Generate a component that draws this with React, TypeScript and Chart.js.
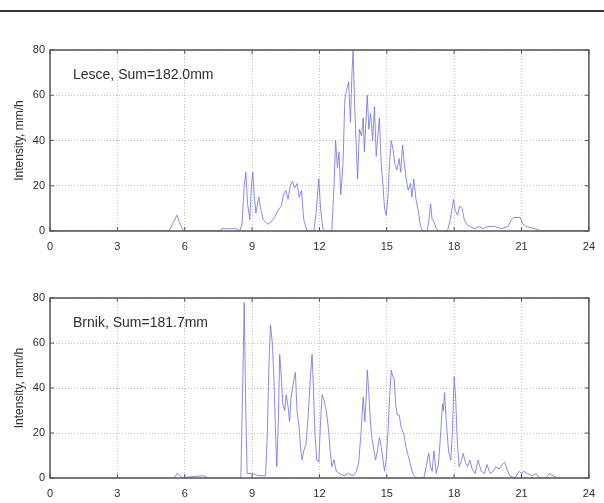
import React, { useEffect, useRef } from "react";
import { Chart, registerables } from "chart.js";

Chart.register(...registerables);

const xTicks = [0, 3, 6, 9, 12, 15, 18, 21, 24];
const yTicks = [0, 20, 40, 60, 80];
const yTitle = "Intensity, mm/h";

const lesceLabel = "Lesce, Sum=182.0mm";
const lesceHours = [0, 5.3, 5.5, 5.65, 5.8, 5.95, 7.6, 7.65, 8.3, 8.45, 8.55, 8.65, 8.72, 8.8, 8.9, 8.97, 9.03, 9.1, 9.17, 9.3, 9.4, 9.5, 9.7, 9.85, 10.0, 10.15, 10.3, 10.4, 10.5, 10.6, 10.7, 10.8, 10.9, 11.0, 11.1, 11.2, 11.3, 11.45, 11.75, 11.85, 11.97, 12.05, 12.15, 12.25, 12.55, 12.65, 12.72, 12.8, 12.87, 12.95, 13.05, 13.13, 13.2, 13.3, 13.38, 13.45, 13.5, 13.57, 13.65, 13.7, 13.78, 13.87, 13.95, 14.0, 14.07, 14.13, 14.2, 14.28, 14.37, 14.45, 14.53, 14.6, 14.67, 14.75, 14.83, 14.9, 14.97, 15.05, 15.12, 15.2, 15.28, 15.35, 15.45, 15.55, 15.62, 15.7, 15.78, 15.85, 15.95, 16.05, 16.12, 16.2, 16.3, 16.4, 16.5, 16.6, 16.8, 16.88, 16.95, 17.02, 17.1, 17.2, 17.35, 17.7, 17.83, 17.97, 18.05, 18.15, 18.25, 18.35, 18.45, 18.55, 18.7, 18.9, 19.1, 19.3, 19.5, 19.8, 20.1, 20.4, 20.55, 20.65, 20.95, 21.05, 21.2, 21.6, 21.9, 24];
const lesceValues = [0, 0, 4, 7, 3, 0, 0, 1, 1, 0, 3, 20, 26, 12, 5, 20, 26, 15, 8, 15, 9, 5, 3, 4, 6, 9, 11, 16, 18, 14, 20, 22, 19, 21, 15, 18, 5, 0, 0, 8, 23, 10, 1, 0, 0, 20, 40, 28, 35, 16, 30, 58, 62, 66, 48, 70, 80, 55, 35, 23, 45, 42, 50, 35, 48, 60, 45, 52, 40, 55, 33, 42, 50, 30, 20, 10, 7, 15, 30, 40, 36, 30, 27, 32, 26, 38, 30, 24, 18, 21, 15, 23, 14, 9, 2, 0, 0, 5, 12, 5, 4, 1, 0, 0, 5, 14, 9, 7, 11, 10, 5, 3, 2, 1, 2, 1, 2, 2, 1, 2, 5, 6, 6, 3, 2, 1, 0, 0];

const brnikLabel = "Brnik, Sum=181.7mm";
const brnikHours = [0, 5.55, 5.65, 5.8, 5.9, 6.2, 6.8, 7.1, 8.5, 8.58, 8.65, 8.72, 8.78, 9.0, 9.3, 9.6, 9.68, 9.75, 9.82, 9.9, 9.97, 10.03, 10.1, 10.17, 10.23, 10.3, 10.37, 10.45, 10.52, 10.6, 10.67, 10.73, 10.8, 10.87, 10.93, 11.0, 11.1, 11.17, 11.23, 11.3, 11.4, 11.5, 11.6, 11.67, 11.73, 11.8, 11.88, 11.97, 12.05, 12.12, 12.2, 12.3, 12.4, 12.48, 12.55, 12.65, 12.75, 12.9, 13.1, 13.3, 13.5, 13.65, 13.75, 13.85, 13.95, 14.02, 14.08, 14.13, 14.2, 14.25, 14.33, 14.4, 14.5, 14.58, 14.67, 14.75, 14.83, 14.9, 14.97, 15.05, 15.12, 15.2, 15.27, 15.33, 15.4, 15.47, 15.55, 15.65, 15.75, 15.85, 15.95, 16.05, 16.15, 16.3, 16.65, 16.75, 16.87, 16.95, 17.02, 17.1, 17.2, 17.3, 17.4, 17.48, 17.52, 17.57, 17.65, 17.75, 17.85, 17.92, 18.0, 18.07, 18.13, 18.22, 18.3, 18.4, 18.5, 18.6, 18.7, 18.8, 18.93, 19.07, 19.2, 19.35, 19.46, 19.6, 19.75, 19.85, 20.0, 20.15, 20.25, 20.35, 20.48, 20.7, 20.9, 21.0, 21.1, 21.25, 21.5, 21.65, 21.8, 22.1, 22.24, 22.4, 22.6, 24];
const brnikValues = [0, 0, 2, 1, 0, 0.5, 1, 0, 0, 40, 78, 30, 2, 2, 1, 1, 20, 50, 68, 60, 45, 25, 5, 25, 55, 45, 33, 30, 37, 32, 25, 35, 40, 44, 47, 30, 22, 12, 8, 12, 15, 28, 45, 55, 40, 20, 8, 7, 25, 37, 35, 30, 22, 12, 5, 8, 3, 2, 1, 2, 1, 3, 7, 20, 36, 25, 35, 48, 38, 28, 18, 14, 8, 12, 18, 14, 8, 3, 8, 20, 35, 48, 45, 44, 32, 28, 28, 22, 20, 14, 10, 6, 2, 0, 0, 5, 11, 5, 3, 12, 2, 6, 20, 33, 30, 38, 25, 12, 8, 20, 45, 35, 18, 5, 7, 11, 7, 5, 8, 4, 2, 8, 3, 2, 6, 2, 3, 5, 4, 6, 7, 4, 1, 0, 3, 2, 3, 2, 1, 2, 0, 0, 2, 1, 0, 0];

const TEXT = "#2e2e2e";
const FONT = "Arial, 'Liberation Sans', sans-serif";

const framePlugin = {
  id: "frame",
  afterDraw(chart: any, _args: any, opts: any) {
    const { ctx, chartArea: a, scales } = chart;
    ctx.save();
    ctx.strokeStyle = "#555";
    ctx.lineWidth = 1.5;
    ctx.strokeRect(a.left, a.top, a.right - a.left, a.bottom - a.top);
    ctx.lineWidth = 1;
    ctx.beginPath();
    xTicks.forEach((v) => {
      const px = scales.x.getPixelForValue(v);
      ctx.moveTo(px, a.bottom);
      ctx.lineTo(px, a.bottom - 4);
      ctx.moveTo(px, a.top);
      ctx.lineTo(px, a.top + 4);
    });
    yTicks.forEach((v) => {
      const py = scales.y.getPixelForValue(v);
      ctx.moveTo(a.left, py);
      ctx.lineTo(a.left + 4, py);
      ctx.moveTo(a.right, py);
      ctx.lineTo(a.right - 4, py);
    });
    ctx.stroke();
    ctx.fillStyle = TEXT;
    ctx.font = "14px " + FONT;
    ctx.textBaseline = "middle";
    ctx.textAlign = "left";
    ctx.fillText(opts.label, a.left + 23, a.top + 25);
    ctx.restore();
  },
};

function Panel(props: { hours: number[]; values: number[]; label: string; top: number; height: number; xh: number }) {
  const ref = useRef<HTMLCanvasElement>(null);
  useEffect(() => {
    const data = props.hours.map((h, i) => ({ x: h, y: props.values[i] }));
    const chart = new Chart(ref.current!, {
      type: "line",
      data: {
        datasets: [
          {
            data,
            borderColor: "rgba(120,120,220,0.85)",
            borderWidth: 1,
            pointRadius: 0,
            tension: 0,
            fill: false,
          },
        ],
      },
      options: {
        animation: false,
        responsive: false,
        maintainAspectRatio: false,
        layout: { padding: { left: 0, right: 9, top: 30, bottom: 0 } },
        plugins: {
          legend: { display: false },
          tooltip: { enabled: false },
          frame: { label: props.label },
        } as any,
        scales: {
          x: {
            type: "linear",
            min: 0,
            max: 24,
            afterBuildTicks: (axis: any) => {
              axis.ticks = xTicks.map((v) => ({ value: v }));
            },
            afterFit: (axis: any) => {
              axis.height = props.xh;
            },
            ticks: { color: TEXT, font: { size: 11, family: FONT }, padding: 9, maxRotation: 0 },
            grid: { color: "#c4c4c4", drawTicks: false, lineWidth: 1 },
            border: { display: false, dash: [1, 2] },
          },
          y: {
            min: 0,
            max: 80,
            afterBuildTicks: (axis: any) => {
              axis.ticks = yTicks.map((v) => ({ value: v }));
            },
            afterFit: (axis: any) => {
              axis.width = 50;
            },
            ticks: { color: TEXT, font: { size: 11, family: FONT }, padding: 5 },
            grid: { color: "#c4c4c4", drawTicks: false, lineWidth: 1 },
            border: { display: false, dash: [1, 2] },
            title: {
              display: true,
              text: yTitle,
              color: TEXT,
              font: { size: 12, family: FONT },
              padding: { top: 12, bottom: 0 },
            },
          },
        },
      },
      plugins: [framePlugin],
    } as any);
    return () => chart.destroy();
  }, []);
  return (
    <canvas
      ref={ref}
      width={604}
      height={props.height}
      style={{ position: "absolute", left: 0, top: props.top, width: 604, height: props.height }}
    />
  );
}

export default function App() {
  return (
    <div
      style={{
        position: "fixed",
        left: 0,
        top: 0,
        width: 604,
        height: 503,
        overflow: "hidden",
        background: "#fff",
      }}
    >
      <div style={{ position: "absolute", left: 0, top: 10, width: 604, height: 2, background: "#333" }} />
      <Panel hours={lesceHours} values={lesceValues} label={lesceLabel} top={20} height={240} xh={29} />
      <Panel hours={brnikHours} values={brnikValues} label={brnikLabel} top={268} height={235} xh={25} />
    </div>
  );
}
